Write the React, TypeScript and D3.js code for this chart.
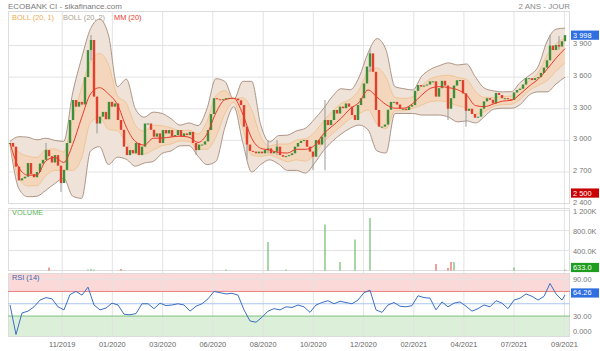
import React from "react";
import * as d3 from "d3";

// ---------- DATA ----------
const closes = [
  2975, 2940, 2750, 2620, 2640, 2655, 2785, 2680, 2650, 2700,
  2780, 2815, 2908, 2850, 2790, 2860, 2760, 2595, 2720, 2975,
  3193, 3383, 3320, 3365, 3340, 3600, 3857, 3952, 3415, 3160,
  3225, 3270, 3200, 3365, 3320, 3350, 3193, 3100, 2940, 2860,
  2908, 2877, 2975, 2860, 2940, 3160, 3160, 3100, 3035, 3066,
  2975, 3098, 3066, 3098, 3035, 3050, 3098, 3035, 3066, 3050,
  3080, 2975, 2908, 2960, 2960, 2990, 3098, 3250, 3400, 3390,
  3383, 3390, 3400, 3403, 3403, 3395, 3380, 3335, 3130, 2960,
  2900, 2893, 2877, 2893, 2877, 2908, 2924, 2877, 2893, 2940,
  2860, 2845, 2850, 2860, 2877, 2940, 2975, 2995, 3003, 2940,
  2893, 2845, 3003, 2960, 3035, 3193, 3145, 3193, 3288, 3255,
  3320, 3305, 3350, 3320, 3240, 3193, 3335, 3400, 3540, 3700,
  3825, 3650, 3288, 3130, 3130, 3150, 3290, 3365, 3365, 3340,
  3300, 3300, 3288, 3320, 3335, 3470, 3525, 3510, 3520, 3530,
  3560, 3560, 3415, 3495, 3565, 3520, 3300, 3400, 3520, 3570,
  3572, 3445, 3280, 3300, 3250, 3215, 3225, 3300, 3370, 3400,
  3385, 3350, 3450, 3430, 3400, 3400, 3390, 3383, 3455, 3478,
  3490, 3530, 3590, 3590, 3572, 3590, 3600, 3640, 3690, 3760,
  3900, 3857, 3905, 3890, 3940, 3998,
];

// [candle index, low, high] for the visible shadows
const wicks: [number, number, number][] = [
  [12, 2880, 2975], [17, 2510, 2720], [27, 3760, 4000], [29, 3066, 3225],
  [62, 2860, 2975], [79, 2820, 3130], [86, 2877, 3003], [89, 2860, 3003],
  [101, 2718, 2893], [105, 2718, 3383], [120, 3650, 3870], [146, 3193, 3520],
  [152, 3130, 3445], [180, 3760, 4000], [183, 3860, 3990],
];

const mm20 = [
  2975, 2740, 2670, 2670, 2805, 2838, 2790, 2960, 3215, 3440,
  3500, 3440, 3340, 3125, 2990, 2955, 3020, 3022, 3032, 3040,
  3030, 2980, 3060, 3260, 3385, 3400, 3250, 3020, 2925, 2908,
  2885, 2880, 2915, 2915, 2950, 3060, 3135, 3210, 3300, 3360,
  3478, 3410, 3340, 3305, 3305, 3350, 3430, 3495, 3510, 3500,
  3480, 3430, 3330, 3320, 3345, 3372, 3380, 3440, 3515, 3580,
  3675, 3780, 3870,
];

const boll2Upper = [
  2990, 3035, 3030, 3005, 3020, 3000, 2990, 3450, 3780, 4060,
  4150, 4000, 3510, 3580, 3300, 3220, 3268, 3255, 3205, 3145,
  3165, 3140, 3300, 3585, 3560, 3385, 3560, 3560, 3150, 2985,
  3045, 3050, 3090, 3115, 3200, 3300, 3415, 3490, 3480, 3600,
  3830, 3965, 3860, 3510, 3490, 3478, 3610, 3675, 3710, 3735,
  3715, 3725, 3600, 3495, 3470, 3460, 3462, 3550, 3615, 3700,
  3940, 4055, 4065,
];

const boll2Lower = [
  2960, 2540, 2465, 2470, 2525, 2590, 2640, 2470, 2450, 2900,
  2940, 2770, 2840, 2820, 2755, 2785, 2800, 2877, 2900, 2948,
  2950, 2850, 2770, 2800, 3120, 3320, 2980, 2700, 2770, 2815,
  2775, 2715, 2715, 2690, 2780, 2900, 2990, 3060, 3115, 3145,
  3100, 2900, 2880, 3255, 3255, 3255, 3240, 3240, 3240, 3220,
  3175, 3185, 3165, 3225, 3295, 3305, 3305, 3340, 3430, 3460,
  3460, 3535, 3600,
];

const rsi14 = [
  48, 0, 35, 38, 45, 56, 60, 58, 45, 40,
  65, 70, 64, 77, 48, 40, 43, 51, 48, 33,
  32, 34, 50, 50, 42, 51, 47, 48, 50, 48,
  38, 46, 50, 58, 70, 68, 66, 67, 64, 40,
  22, 20, 28, 38, 42, 40, 45, 44, 48, 45,
  36, 48, 52, 55, 50, 54, 52, 50, 56, 68,
  72, 40, 36, 48, 52, 46, 45, 47, 63, 60,
  59, 40, 53, 45, 51, 53, 46, 38, 42, 48,
  45, 55, 51, 42, 56, 59, 66, 62, 56, 62,
  83, 66, 56, 64.26,
];

// [candle index, volume, 1 = up / 0 = down]
const volumes: [number, number, number][] = [
  [13, 60000, 0], [26, 20000, 1], [27, 30000, 1], [28, 20000, 1],
  [37, 30000, 0], [72, 15000, 1], [86, 570000, 1], [92, 20000, 1],
  [105, 920000, 1], [110, 170000, 1], [115, 620000, 1], [120, 1050000, 1],
  [142, 130000, 0], [146, 50000, 0], [147, 170000, 0], [148, 170000, 1],
  [168, 60000, 1], [185, 633, 1],
];

const monthTicks = [17.4, 34.1, 50.9, 67.6, 84.4, 101.1, 117.8, 134.6, 151.3, 168.0, 184.8];
const monthLabels = ["11/2019", "01/2020", "03/2020", "06/2020", "08/2020", "10/2020", "12/2020", "02/2021", "04/2021", "07/2021", "09/2021"];
const priceTicks = [3900, 3600, 3300, 3000, 2700, 2400];
const volumeTicks = [1200000, 800000, 400000];
const volumeTickLabels = ["1 200K", "800.0K", "400.0K"];
const rsiTicks = [90, 30, 0];
const rsiTickLabels = ["90.00", "30.00", "0.000"];
const lastPrice = 3998;
const refPrice = 2500;
const lastVolume = 633;
const lastRsi = 64.26;

// ---------- CHART ----------
const FONT = "'Liberation Sans', Arial, sans-serif";
const GREEN = "#3f8f3a";
const RED = "#e0402e";
const GRID = "#e3e3e3";

const fmtThousands = (v: number) => d3.format(",")(v).replace(/,/g, " ");

export default function App() {
  const L = 8, R = 570;
  const P = { top: 11, bottom: 204 };
  const V = { top: 208, bottom: 271 };
  const Q = { top: 273, bottom: 337 };

  const n = closes.length;
  const x = d3.scaleLinear().domain([0, n - 1]).range([10, 565]);
  const yP = d3.scaleLinear().domain([2400, 3900]).range([203.6, 45.5]);
  const yV = d3.scaleLinear().domain([0, 1200000]).range([270.5, 210.5]);
  const yR = d3.scaleLinear().domain([0, 100]).range([334.5, 273]);

  const bandX = (k: number) => x((k * (n - 1)) / (mm20.length - 1));
  const ks = mm20.map((_, k) => k);
  const up1 = mm20.map((m, k) => m + (boll2Upper[k] - m) / 2);
  const lo1 = mm20.map((m, k) => m - (m - boll2Lower[k]) / 2);

  const curve = d3.curveMonotoneX;
  const area = (hi: number[], lo: number[]) =>
    d3.area<number>().x((k) => bandX(k)).y0((k) => yP(lo[k])).y1((k) => yP(hi[k])).curve(curve)(ks) || "";
  const line = (arr: number[]) =>
    d3.line<number>().x((k) => bandX(k)).y((k) => yP(arr[k])).curve(curve)(ks) || "";

  const rsiX = (k: number) => x(Math.min(k * 2, n - 1));
  const rsiPath = d3.line<number>().x((_, k) => rsiX(k)).y((d) => yR(d))(rsi14) || "";

  const gx = monthTicks.map((t) => x(t));

  const textStyle = { fontFamily: FONT, fontSize: 7.4 };

  const box = (yc: number, label: string, fill: string) => (
    <g>
      <rect x={571} y={yc - 4.6} width={28} height={9.2} fill={fill} />
      <text x={573} y={yc} dominantBaseline="central" fill="#fff" style={textStyle}>{label}</text>
    </g>
  );

  return (
    <div style={{ position: "fixed", left: 0, top: 0 }}>
      <svg width={600} height={351} viewBox="0 0 600 351" style={{ display: "block", background: "#fff" }}>
        <defs>
          <clipPath id="cp"><rect x={L} y={P.top} width={R - L} height={P.bottom - P.top} /></clipPath>
          <clipPath id="cv"><rect x={L} y={V.top} width={R - L} height={V.bottom - V.top} /></clipPath>
          <clipPath id="cr"><rect x={L} y={Q.top} width={R - L} height={Q.bottom - Q.top} /></clipPath>
        </defs>

        {/* header */}
        <text x={8} y={9} fill="#7a7a7a" style={{ ...textStyle, fontSize: 8 }}>ECOBANK CI - sikafinance.com</text>
        <text x={570} y={9} textAnchor="end" fill="#8a8a8a" style={{ ...textStyle, fontSize: 8 }}>2 ANS - JOUR</text>

        {/* RSI zones */}
        <rect x={L} y={yR(100)} width={R - L} height={yR(70) - yR(100)} fill="#fbd9d9" />
        <rect x={L} y={yR(30)} width={R - L} height={Q.bottom - yR(30)} fill="#dcefd9" />

        {/* grids */}
        {priceTicks.map((t) => (
          <line key={"pg" + t} x1={L} x2={R} y1={yP(t)} y2={yP(t)} stroke={GRID} />
        ))}
        {volumeTicks.map((t) => (
          <line key={"vg" + t} x1={L} x2={R} y1={yV(t)} y2={yV(t)} stroke={GRID} />
        ))}
        <line x1={L} x2={R} y1={yR(90)} y2={yR(90)} stroke={GRID} />
        {gx.map((g, i) => (
          <line key={"gx" + i} x1={g} x2={g} y1={P.top} y2={Q.bottom} stroke={GRID} />
        ))}

        {/* panel frames */}
        {[P, V, Q].map((p, i) => (
          <rect key={"fr" + i} x={L + 0.5} y={p.top + 0.5} width={R - L - 1} height={p.bottom - p.top - 1} fill="none" stroke="#dcdcdc" />
        ))}

        {/* price panel */}
        <g clipPath="url(#cp)">
          <path d={area(boll2Upper, boll2Lower)} fill="#efe2d8" />
          <path d={line(boll2Upper)} fill="none" stroke="#a58b7a" strokeWidth={0.9} />
          <path d={line(boll2Lower)} fill="none" stroke="#a58b7a" strokeWidth={0.9} />
          <path d={area(up1, lo1)} fill="#f3d6bb" />
          <path d={line(up1)} fill="none" stroke="#efbf88" strokeWidth={0.8} />
          <path d={line(lo1)} fill="none" stroke="#efbf88" strokeWidth={0.8} />

          {wicks.map(([i, lo, hi]) => (
            <line key={"w" + i} x1={x(i)} x2={x(i)} y1={yP(hi)} y2={yP(lo)} stroke="#9a9a9a" strokeWidth={1} />
          ))}
          {closes.map((c, i) => {
            const o = i > 0 ? closes[i - 1] : c;
            const upc = c >= o;
            const y1 = yP(Math.max(o, c));
            const y2 = yP(Math.min(o, c));
            return (
              <rect key={"c" + i} x={x(i) - 1.2} y={y1} width={2.4} height={Math.max(1, y2 - y1)} fill={upc ? GREEN : RED} />
            );
          })}
          <path d={line(mm20)} fill="none" stroke="#e8392b" strokeWidth={1} />
        </g>

        {/* legend */}
        <text x={12} y={20} fill="#f0aa55" style={textStyle}>BOLL (20, 1)</text>
        <text x={63} y={20} fill="#b0a090" style={textStyle}>BOLL (20, 2)</text>
        <text x={114} y={20} fill="#e8392b" style={textStyle}>MM (20)</text>

        {/* volume panel */}
        <text x={12} y={215} fill="#5cb85c" style={textStyle}>VOLUME</text>
        <g clipPath="url(#cv)">
          {volumes.map(([i, v, u]) => (
            <line key={"v" + i} x1={x(i)} x2={x(i)} y1={yV(0)} y2={Math.min(yV(v), yV(0) - 1)} stroke={u ? "#4cae4c" : "#e0402e"} strokeWidth={1} />
          ))}
        </g>

        {/* RSI panel */}
        <line x1={L} x2={R} y1={yR(70)} y2={yR(70)} stroke="#e88080" />
        <line x1={L} x2={R} y1={yR(50)} y2={yR(50)} stroke="#a9c6ee" />
        <line x1={L} x2={R} y1={yR(30)} y2={yR(30)} stroke="#7cbf7c" />
        <text x={12} y={280} fill="#4a64a8" style={textStyle}>RSI (14)</text>
        <g clipPath="url(#cr)">
          <path d={rsiPath} fill="none" stroke="#3b6fc4" strokeWidth={1} />
        </g>

        {/* right axis labels */}
        {priceTicks.map((t) => (
          <text key={"pt" + t} x={573} y={yP(t) - 1.6} dominantBaseline="central" fill="#777" style={textStyle}>{fmtThousands(t)}</text>
        ))}
        {volumeTicks.map((t, i) => (
          <text key={"vt" + t} x={573} y={yV(t) + 0.6} dominantBaseline="central" fill="#777" style={textStyle}>{volumeTickLabels[i]}</text>
        ))}
        {rsiTicks.map((t, i) => (
          <text key={"rt" + t} x={573} y={Math.min(yR(t), 331)} dominantBaseline="central" fill="#777" style={textStyle}>{rsiTickLabels[i]}</text>
        ))}

        {box(yP(lastPrice), fmtThousands(lastPrice), "#2f6fe0")}
        {box(yP(refPrice), fmtThousands(refPrice), "#c80000")}
        {box(Math.min(yV(lastVolume), V.bottom - 3.5), d3.format(".1f")(lastVolume), "#1e9e1e")}
        {box(yR(lastRsi) - 2, d3.format(".2f")(lastRsi), "#2f6fe0")}

        {/* x axis labels */}
        {gx.map((g, i) => (
          <text key={"xl" + i} x={g} y={347} textAnchor="middle" fill="#666" style={textStyle}>{monthLabels[i]}</text>
        ))}
      </svg>
    </div>
  );
}
